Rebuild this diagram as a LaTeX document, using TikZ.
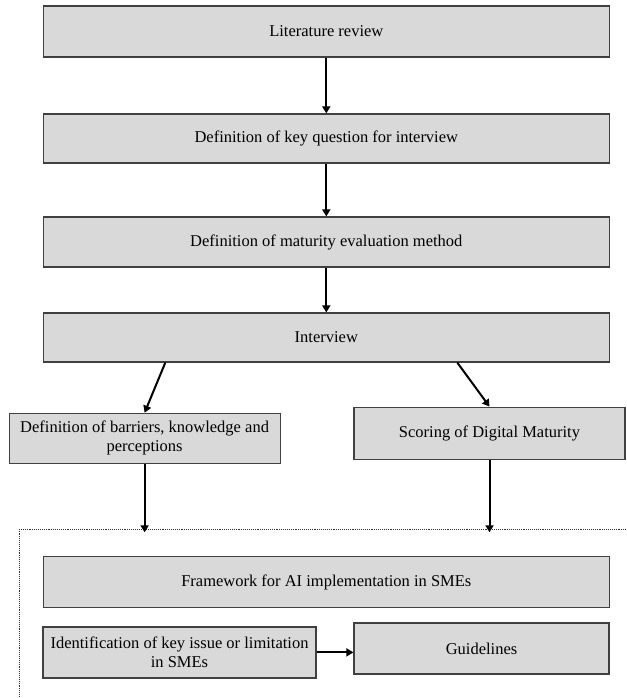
\documentclass[tikz,border=0pt]{standalone}
\usepackage{fontspec}
\setmainfont{Liberation Serif}
\usetikzlibrary{arrows.meta, positioning}

\begin{document}
\begin{tikzpicture}[
    x=1pt, y=-1pt,
    op/.style={rectangle, draw=black!75, line width=1.2pt, fill=black!15, text centered, align=center, font=\fontsize{16.5}{19}\selectfont, inner sep=0pt},
    arrow/.style={-{Triangle[length=7pt, width=8pt]}, line width=2pt},
    frame/.style={densely dotted, line width=0.9pt, draw=black!80},
]

%Background
\useasboundingbox[fill=white] (0, 0) rectangle (626, 698);

% Main sequence
\node[op, minimum width=566, minimum height=51] (lit_review) at (326.3, 31.6) {Literature review};
\node[op, minimum width=566, minimum height=49] (key_question) at (326.3, 138.5) {Definition of key question for interview};
\node[op, minimum width=566, minimum height=50] (eval_method) at (326.3, 242) {Definition of maturity evaluation method};
\node[op, minimum width=566, minimum height=49] (interview) at (326.3, 337.5) {Interview};

% Two branches
\node[op, minimum width=271, minimum height=50] (barriers) at (144.6, 438.3) {Definition of barriers, knowledge and\\perceptions};
\node[op, minimum width=271, minimum height=52] (scoring) at (489.5, 433.2) {Scoring of Digital Maturity};

% Dotted frame
\coordinate (frame_top) at (19.3, 529.3);
\coordinate (frame_right) at (626, 529.3);
\coordinate (frame_bottom) at (19.3, 698);
\draw[frame] (frame_right) -- (frame_top) -- (frame_bottom);

% Framework
\node[op, minimum width=566, minimum height=51] (framework) at (326.3, 582.3) {Framework for AI implementation in SMEs};
\node[op, minimum width=273, minimum height=51] (key_issue) at (179.5, 652.4) {Identification of key issue or limitation\\in SMEs};
\node[op, minimum width=255, minimum height=51] (guidelines) at (481.5, 648.4) {Guidelines};

% Arrows
\draw[arrow] (lit_review) -- (key_question);
\draw[arrow] (key_question) -- (eval_method);
\draw[arrow] (eval_method) -- (interview);
\draw[arrow] ([xshift=-161]interview.south) -- (barriers.north);
\draw[arrow] ([xshift=131]interview.south) -- (scoring.north);
\draw[arrow] (barriers.south) -- ([yshift=-3]barriers.south |- frame_top);
\draw[arrow] (scoring.south) -- ([yshift=-3]scoring.south |- frame_top);
\draw[arrow] (key_issue.east) -- (key_issue.east -| guidelines.west);

\end{tikzpicture}
\end{document}
